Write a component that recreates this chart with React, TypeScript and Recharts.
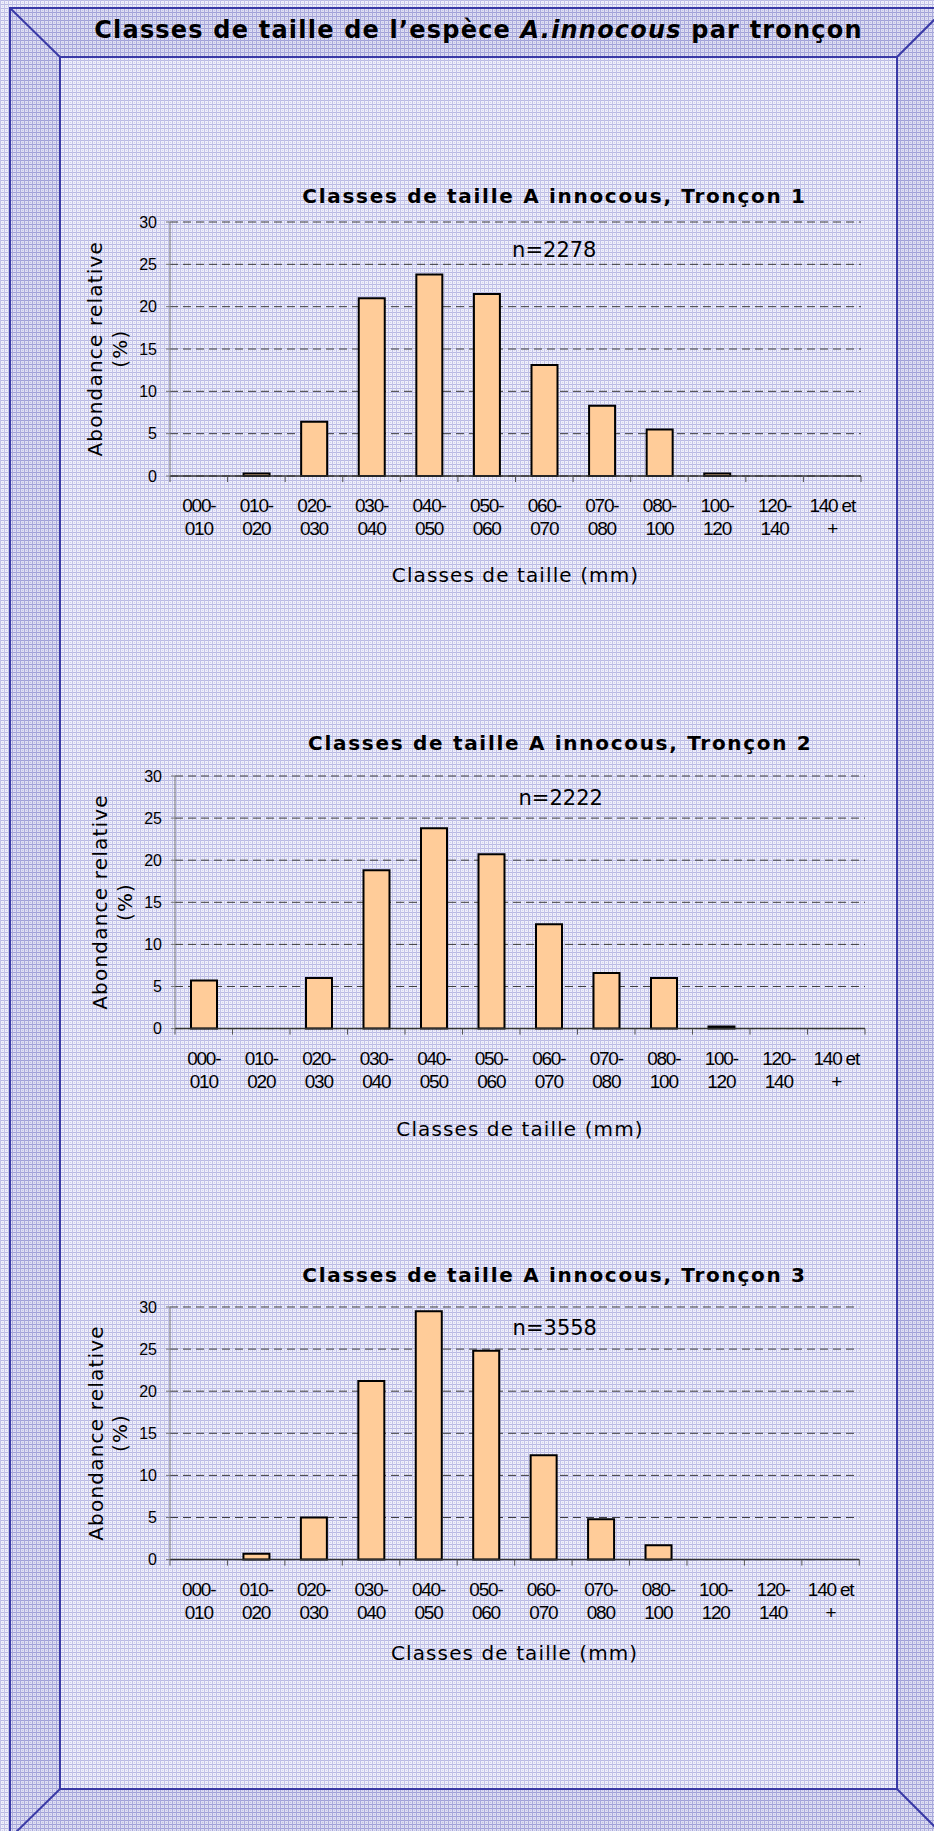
import React from "react";
import { BarChart, Bar, XAxis, YAxis, CartesianGrid } from "recharts";

// size classes (mm)
const categories = [
  "000-010", "010-020", "020-030", "030-040", "040-050", "050-060",
  "060-070", "070-080", "080-100", "100-120", "120-140", "140 et +",
];
const tickLines = [
  ["000-", "010"], ["010-", "020"], ["020-", "030"], ["030-", "040"],
  ["040-", "050"], ["050-", "060"], ["060-", "070"], ["070-", "080"],
  ["080-", "100"], ["100-", "120"], ["120-", "140"], ["140 et", "+"],
];

// relative abundance (%) per reach
const troncon1 = [0, 0.3, 6.4, 21.0, 23.8, 21.5, 13.1, 8.3, 5.5, 0.3, 0, 0];
const troncon2 = [5.7, 0, 6.0, 18.8, 23.8, 20.7, 12.4, 6.6, 6.0, 0.25, 0, 0];
const troncon3 = [0, 0.7, 5.0, 21.2, 29.5, 24.8, 12.4, 4.8, 1.7, 0, 0, 0];
const sampleSizes = [2278, 2222, 3558];
const yTicks = [0, 5, 10, 15, 20, 25, 30];

const PAGE_W = 934;
const PAGE_H = 1831;
const PAD = 10;
const AXIS_H = 70;

const panels = [
  { plotLeft: 170, plotRight: 861, plotTop: 221.7, plotBottom: 475.7, titleX: 554.5, titleY: 202.5, nX: 554.3, nY: 257, yLab1: 102.5, yLab2: 127, xTitleY: 582 },
  { plotLeft: 175, plotRight: 865, plotTop: 775.7, plotBottom: 1028.3, titleX: 560.3, titleY: 750, nX: 560.7, nY: 805, yLab1: 106.5, yLab2: 131.5, xTitleY: 1136 },
  { plotLeft: 170, plotRight: 859.3, plotTop: 1306.7, plotBottom: 1559.3, titleX: 554.5, titleY: 1281.5, nX: 554.8, nY: 1335, yLab1: 102.5, yLab2: 127, xTitleY: 1660 },
];
const series = [troncon1, troncon2, troncon3];

const XTick = (props: any) => {
  const { x, y, payload, index, bw } = props;
  const lines = tickLines[categories.indexOf(payload.value)] || [payload.value, ""];
  const last = index === categories.length - 1;
  return (
    <g>
      <line x1={x - bw / 2} y1={y} x2={x - bw / 2} y2={y + 6} stroke="#555" />
      {last && <line x1={x + bw / 2} y1={y} x2={x + bw / 2} y2={y + 6} stroke="#555" />}
      <text textAnchor="middle" fill="#000" fontFamily="Liberation Sans, Arial" fontSize={19} letterSpacing={-1.2}>
        <tspan x={x} y={y + 36}>{lines[0]}</tspan>
        <tspan x={x} y={y + 59}>{lines[1]}</tspan>
      </text>
    </g>
  );
};

function Panel({ idx }: { idx: number }) {
  const p = panels[idx];
  const data = categories.map((c, i) => ({ cat: c, v: series[idx][i] }));
  const plotH = p.plotBottom - p.plotTop;
  const bw = (p.plotRight - p.plotLeft) / categories.length;
  return (
    <div style={{ position: "absolute", left: 0, top: p.plotTop - PAD }}>
      <BarChart
        width={PAGE_W}
        height={plotH + PAD + AXIS_H}
        data={data}
        margin={{ top: PAD, right: PAGE_W - p.plotRight, bottom: 0, left: 0 }}
        barCategoryGap="27%"
      >
        <CartesianGrid vertical={false} stroke="#3c3c3c" strokeDasharray="8 5" />
        <XAxis
          dataKey="cat"
          interval={0}
          height={AXIS_H}
          tickLine={false}
          tickSize={0}
          tickMargin={0}
          axisLine={{ stroke: "#333", strokeWidth: 1.5 }}
          tick={(tp: any) => <XTick {...tp} bw={bw} />}
        />
        <YAxis
          width={p.plotLeft}
          domain={[0, 30]}
          ticks={yTicks}
          interval={0}
          tickSize={4}
          tickMargin={9}
          axisLine={{ stroke: "#777" }}
          tickLine={{ stroke: "#777" }}
          tick={{ fill: "#000", fontSize: 16, fontFamily: "Liberation Sans, Arial" }}
        />
        <Bar dataKey="v" fill="#ffcc99" stroke="#000" strokeWidth={2} barSize={26} isAnimationActive={false} />
      </BarChart>
    </div>
  );
}

export default function App() {
  const o = { l: 10, t: 8, r: 946, b: 1838 };
  const i = { l: 60, t: 57, r: 897, b: 1789 };
  const line = "#3a3aa6";
  return (
    <div style={{ position: "absolute", left: 0, top: 0, width: PAGE_W, height: PAGE_H, overflow: "hidden" }}>
      <svg width={PAGE_W} height={PAGE_H} style={{ position: "absolute", left: 0, top: 0 }}>
        <defs>
          <pattern id="pin" width="4" height="4" patternUnits="userSpaceOnUse">
            <rect width="4" height="4" fill="#efeffa" />
            <rect width="4" height="1" fill="#b9b9e3" />
            <rect width="1" height="4" fill="#c3c3e8" />
            <rect x="2" y="2" width="1" height="1" fill="#d2d2ef" />
          </pattern>
          <pattern id="pbv" width="4" height="4" patternUnits="userSpaceOnUse">
            <rect width="4" height="4" fill="#dedef2" />
            <rect width="4" height="1" fill="#a0a0d8" />
            <rect width="1" height="4" fill="#aaaadc" />
            <rect x="2" y="2" width="1" height="1" fill="#c0c0e6" />
          </pattern>
        </defs>
        <rect width={PAGE_W} height={PAGE_H} fill="url(#pin)" />
        <polygon points={`${o.l},${o.t} ${o.r},${o.t} ${i.r},${i.t} ${i.l},${i.t}`} fill="url(#pbv)" />
        <polygon points={`${o.l},${o.t} ${i.l},${i.t} ${i.l},${i.b} ${o.l},${o.b}`} fill="url(#pbv)" />
        <polygon points={`${o.r},${o.t} ${i.r},${i.t} ${i.r},${i.b} ${o.r},${o.b}`} fill="url(#pbv)" />
        <polygon points={`${o.l},${o.b} ${i.l},${i.b} ${i.r},${i.b} ${o.r},${o.b}`} fill="url(#pbv)" />
        <rect x={o.l} y={o.t} width={o.r - o.l} height={o.b - o.t} fill="none" stroke={line} strokeWidth={2} />
        <rect x={i.l} y={i.t} width={i.r - i.l} height={i.b - i.t} fill="none" stroke={line} strokeWidth={2} />
        <line x1={o.l} y1={o.t} x2={i.l} y2={i.t} stroke={line} strokeWidth={2} />
        <line x1={o.r} y1={o.t} x2={i.r} y2={i.t} stroke={line} strokeWidth={2} />
        <line x1={o.l} y1={o.b} x2={i.l} y2={i.b} stroke={line} strokeWidth={2} />
        <line x1={o.r} y1={o.b} x2={i.r} y2={i.b} stroke={line} strokeWidth={2} />

        <text x={478.5} y={37.5} textAnchor="middle" fontFamily="DejaVu Sans" fontWeight="bold" fontSize={24} letterSpacing={1.2} fill="#000">
          Classes de taille de l’espèce <tspan fontStyle="italic">A.innocous</tspan> par tronçon
        </text>

        {panels.map((p, k) => {
          const cy = (p.plotTop + p.plotBottom) / 2;
          const cx = (p.plotLeft + p.plotRight) / 2;
          return (
            <g key={k} fill="#000">
              <text x={p.titleX} y={p.titleY} textAnchor="middle" fontFamily="DejaVu Sans" fontWeight="bold" fontSize={20} letterSpacing={1.7}>
                {`Classes de taille A innocous, Tronçon ${k + 1}`}
              </text>
              <text x={p.nX} y={p.nY} textAnchor="middle" fontFamily="DejaVu Sans" fontSize={21}>
                {`n=${sampleSizes[k]}`}
              </text>
              <text x={cx} y={p.xTitleY} textAnchor="middle" fontFamily="DejaVu Sans" fontSize={20} letterSpacing={1.1}>
                Classes de taille (mm)
              </text>
              <text transform={`rotate(-90 ${p.yLab1} ${cy})`} x={p.yLab1} y={cy} textAnchor="middle" fontFamily="DejaVu Sans" fontSize={20} letterSpacing={1.2}>
                Abondance relative
              </text>
              <text transform={`rotate(-90 ${p.yLab2} ${cy})`} x={p.yLab2} y={cy} textAnchor="middle" fontFamily="DejaVu Sans" fontSize={20} letterSpacing={1.2}>
                (%)
              </text>
            </g>
          );
        })}
      </svg>
      {panels.map((_, k) => (
        <Panel key={k} idx={k} />
      ))}
    </div>
  );
}
